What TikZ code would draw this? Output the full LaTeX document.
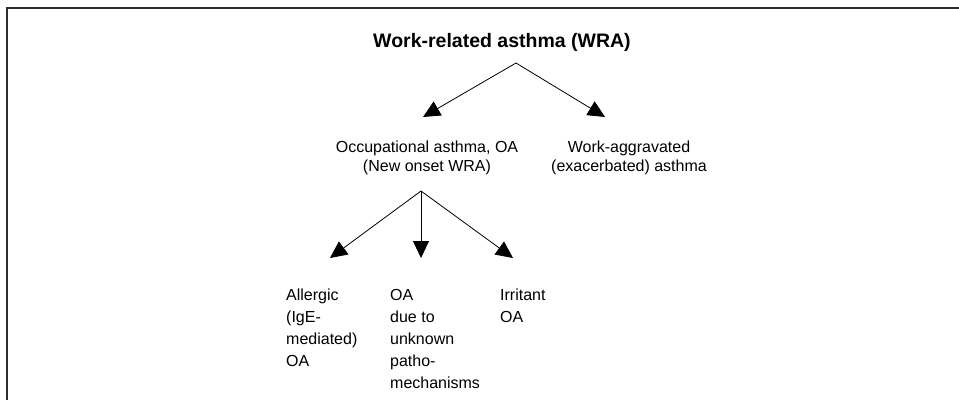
\documentclass[tikz,border=0pt]{standalone}
\usepackage{fontspec}
\setmainfont{Liberation Sans}
\usetikzlibrary{arrows.meta}
\begin{document}
\begin{tikzpicture}[x=1pt,y=-1pt,
  lab/.style={inner sep=0pt, font=\fontsize{16}{19}\selectfont, align=center},
  leaf/.style={inner sep=0pt, font=\fontsize{16}{22}\selectfont, align=left, anchor=north west},
  arr/.style={line width=0.8pt, -{Triangle[length=17pt,width=16pt]}}]
\useasboundingbox (0,0) rectangle (959,400);
\draw[line width=1.8pt, color=black!82] (959,8) -- (7,8) -- (7,400);
\node[inner sep=0pt, anchor=base, font=\fontsize{19.5}{24}\selectfont\bfseries] (wra) at (502,47) {Work-related asthma (WRA)};
\node[lab, anchor=north] (oa) at (427,141) {Occupational asthma, OA\\(New onset WRA)};
\node[lab, anchor=north] (wa) at (629,141) {Work-aggravated\\(exacerbated) asthma};
\node[leaf] (al) at (286,289) {Allergic\\(IgE-\\mediated)\\OA};
\node[leaf] (un) at (390,289) {OA\\due to\\unknown\\patho-\\mechanisms};
\node[leaf] (ir) at (500,289) {Irritant\\OA};
\coordinate (a1) at (516,63);
\coordinate (t1) at (423,117);
\coordinate (t2) at (605,117);
\coordinate (a2) at (421,191);
\coordinate (t3) at (330,258);
\coordinate (t4) at (421,258);
\coordinate (t5) at (513,258);
\draw[arr] (a1) -- (t1);
\draw[arr] (a1) -- (t2);
\draw[arr] (a2) -- (t3);
\draw[arr] (a2) -- (t4);
\draw[arr] (a2) -- (t5);
\end{tikzpicture}
\end{document}
